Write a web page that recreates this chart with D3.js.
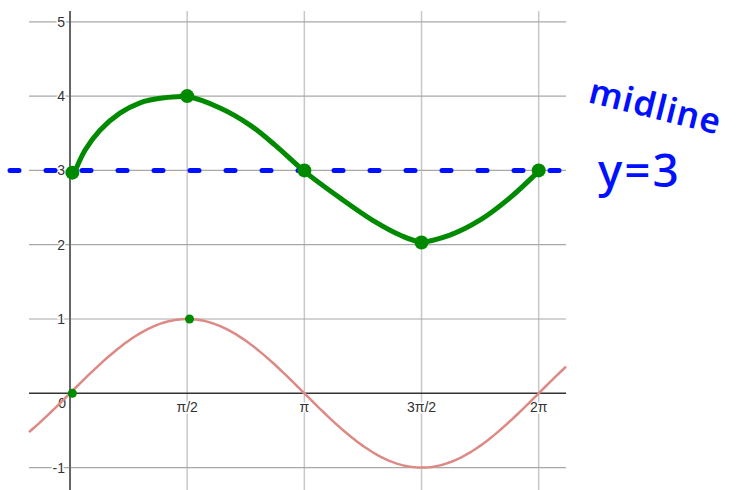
<!DOCTYPE html>
<html>
<head>
<meta charset="utf-8">
<script src="https://cdn.jsdelivr.net/npm/d3@7"></script>
<style>
  body { margin: 0; background: #fff; }
  svg { display: block; }
</style>
</head>
<body>
<div id="viz"></div>
<script>
// Ticks (radians) and their labels
const xTicks = [Math.PI / 2, Math.PI, 3 * Math.PI / 2, 2 * Math.PI];
const xTickLabels = ['π/2', 'π', '3π/2', '2π'];
const yTicks = [-1, 1, 2, 3, 4, 5];

// Hand drawn green curve, x as multiples of π, y in units
const greenX = [0.013, 0.064, 0.128, 0.213, 0.299, 0.384, 0.503, 0.64, 0.768, 0.875,
  1.003, 1.152, 1.301, 1.408, 1.497, 1.621, 1.749, 1.877, 1.997];
const greenY = [2.92, 3.27, 3.54, 3.77, 3.91, 3.97, 3.99, 3.84, 3.61, 3.34,
  2.98, 2.63, 2.31, 2.13, 2.04, 2.13, 2.33, 2.63, 2.98];

// Big green dots (key points of y = 3 + sin x)
const keyX = [0.01, 0.5, 1.0, 1.5, 2.0];
const keyY = [2.97, 4.0, 3.0, 2.03, 3.0];
// Small green dots on sin x
const smallX = [0.01, 0.51];
const smallY = [0.0, 1.0];

// Midline
const midlineY = 3;
const midlineFrom = -0.256;  // multiples of π
const midlineTo = 2.163;

const config = {
  width: 742,
  height: 490,
  left: 29,
  right: 566,
  top: 11,
  bottom: 490
};

const svg = d3.select('#viz').append('svg')
  .attr('width', config.width)
  .attr('height', config.height);

const xScale = d3.scaleLinear().domain([0, 2 * Math.PI]).range([70, 538.7]);
const yScale = d3.scaleLinear().domain([0, 5]).range([393.3, 21.8]);

const xMin = xScale.invert(config.left);
const xMax = xScale.invert(config.right);

// Grid
const grid = svg.append('g').attr('class', 'grid');
grid.selectAll('.vgrid')
  .data(xTicks)
  .enter()
  .append('line')
  .attr('class', 'vgrid')
  .attr('x1', d => xScale(d)).attr('x2', d => xScale(d))
  .attr('y1', config.top).attr('y2', config.bottom)
  .attr('stroke', '#c8c8c8')
  .attr('stroke-width', 1.5);

grid.selectAll('.hgrid')
  .data(yTicks)
  .enter()
  .append('line')
  .attr('class', 'hgrid')
  .attr('x1', config.left).attr('x2', config.right)
  .attr('y1', d => yScale(d)).attr('y2', d => yScale(d))
  .attr('stroke', '#a8a8a8')
  .attr('stroke-width', 1.2);

// Axes
svg.append('line')
  .attr('x1', config.left).attr('x2', config.right)
  .attr('y1', yScale(0)).attr('y2', yScale(0))
  .attr('stroke', '#333')
  .attr('stroke-width', 1.5);
svg.append('line')
  .attr('x1', xScale(0)).attr('x2', xScale(0))
  .attr('y1', config.top).attr('y2', config.bottom)
  .attr('stroke', '#666')
  .attr('stroke-width', 2);

// Tick labels
const labels = svg.append('g')
  .attr('font-family', 'Liberation Sans, Arial, sans-serif')
  .attr('font-size', 14)
  .attr('fill', '#333');

labels.selectAll('.ylab')
  .data(yTicks)
  .enter()
  .append('text')
  .attr('class', 'ylab')
  .attr('x', xScale(0) - 5)
  .attr('y', d => yScale(d))
  .attr('dy', '0.35em')
  .attr('text-anchor', 'end')
  .attr('stroke', '#fff')
  .attr('stroke-width', 3)
  .attr('paint-order', 'stroke')
  .text(d => d);

labels.append('text')
  .attr('x', xScale(0) - 4)
  .attr('y', yScale(0) + 15)
  .attr('text-anchor', 'end')
  .text('0');

labels.selectAll('.xlab')
  .data(xTicks)
  .enter()
  .append('text')
  .attr('class', 'xlab')
  .attr('x', d => xScale(d))
  .attr('y', yScale(0) + 19)
  .attr('text-anchor', 'middle')
  .attr('stroke', '#fff')
  .attr('stroke-width', 3)
  .attr('paint-order', 'stroke')
  .text((d, i) => xTickLabels[i]);

// Red sine curve
const sinData = d3.range(0, 201).map(i => {
  const x = xMin + (xMax - xMin) * i / 200;
  return [x, Math.sin(x)];
});
svg.append('path')
  .datum(sinData)
  .attr('d', d3.line().x(d => xScale(d[0])).y(d => yScale(d[1])))
  .attr('fill', 'none')
  .attr('stroke', '#dc8a86')
  .attr('stroke-width', 2.5);

// Blue dashed midline
svg.append('line')
  .attr('x1', xScale(midlineFrom * Math.PI))
  .attr('x2', xScale(midlineTo * Math.PI))
  .attr('y1', yScale(midlineY))
  .attr('y2', yScale(midlineY))
  .attr('stroke', '#0010ff')
  .attr('stroke-width', 5)
  .attr('stroke-linecap', 'round')
  .attr('stroke-dasharray', '9 27');

// Green hand drawn curve
const greenData = greenX.map((x, i) => [x * Math.PI, greenY[i]]);
svg.append('path')
  .datum(greenData)
  .attr('d', d3.line().curve(d3.curveCatmullRom).x(d => xScale(d[0])).y(d => yScale(d[1])))
  .attr('fill', 'none')
  .attr('stroke', '#008a00')
  .attr('stroke-width', 5)
  .attr('stroke-linecap', 'round');

svg.selectAll('.keydot')
  .data(keyX)
  .enter()
  .append('circle')
  .attr('class', 'keydot')
  .attr('cx', d => xScale(d * Math.PI))
  .attr('cy', (d, i) => yScale(keyY[i]))
  .attr('r', 7)
  .attr('fill', '#008a00');

svg.selectAll('.smalldot')
  .data(smallX)
  .enter()
  .append('circle')
  .attr('class', 'smalldot')
  .attr('cx', d => xScale(d * Math.PI))
  .attr('cy', (d, i) => yScale(smallY[i]))
  .attr('r', 4.5)
  .attr('fill', '#008a00');

// Annotation
svg.append('text')
  .attr('transform', 'translate(587,102) rotate(14)')
  .attr('font-family', 'Noto Sans, sans-serif')
  .attr('font-size', 35)
  .attr('font-weight', 600)
  .attr('letter-spacing', 1)
  .attr('fill', '#0010ff')
  .text('midline');

svg.append('text')
  .attr('x', 598)
  .attr('y', 187)
  .attr('font-family', 'Noto Sans, sans-serif')
  .attr('font-size', 46)
  .attr('font-weight', 500)
  .attr('letter-spacing', 2)
  .attr('fill', '#0010ff')
  .text('y=3');
</script>
</body>
</html>
